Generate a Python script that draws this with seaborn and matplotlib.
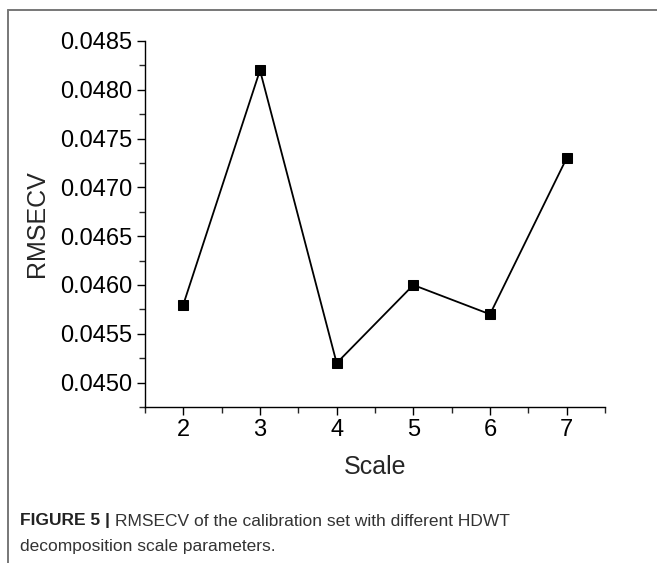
import matplotlib
matplotlib.use("Agg")
import matplotlib.pyplot as plt
import seaborn as sns
import pandas as pd
from matplotlib.lines import Line2D
from matplotlib.ticker import MultipleLocator

scale = [2, 3, 4, 5, 6, 7]
rmsecv = [0.0458, 0.0482, 0.0452, 0.0460, 0.0457, 0.0473]
yticks = [0.0450, 0.0455, 0.0460, 0.0465, 0.0470, 0.0475, 0.0480, 0.0485]
xticks = [2, 3, 4, 5, 6, 7]

df = pd.DataFrame({"Scale": scale, "RMSECV": rmsecv})

sns.set_theme(style="ticks")
plt.rcParams["font.family"] = ["Liberation Sans", "DejaVu Sans"]

W, H = 657, 563
fig = plt.figure(figsize=(W / 100, H / 100), dpi=100)
ax = fig.add_axes([145 / W, 1 - 407 / H, 460 / W, 366 / H])

sns.lineplot(data=df, x="Scale", y="RMSECV", ax=ax, color="black", linewidth=1.3,
             marker="s", markersize=7, markerfacecolor="black", markeredgecolor="black")

ax.set_xlim(1.5, 7.5)
ax.set_ylim(0.04475, 0.0485)
ax.set_xticks(xticks)
ax.set_xticklabels([str(v) for v in xticks])
ax.set_yticks(yticks)
ax.set_yticklabels([f"{v:.4f}" for v in yticks])
ax.xaxis.set_minor_locator(MultipleLocator(0.5))
ax.yaxis.set_minor_locator(MultipleLocator(0.00025))
ax.tick_params(axis="both", which="major", direction="out", length=6, width=1.0,
               labelsize=17, colors="black", pad=3)
ax.tick_params(axis="both", which="minor", direction="out", length=4, width=1.0)
for s in ["top", "right"]:
    ax.spines[s].set_visible(False)
for s in ["left", "bottom"]:
    ax.spines[s].set_color("black")
    ax.spines[s].set_linewidth(1.0)
ax.set_xlabel("Scale", fontsize=18, labelpad=10)
ax.set_ylabel("RMSECV", fontsize=18, labelpad=8)

# frame lines (top and left)
fig.add_artist(Line2D([7.5 / W, 1.0], [1 - 10 / H, 1 - 10 / H], transform=fig.transFigure,
                      color="#777777", linewidth=1.4))
fig.add_artist(Line2D([7.5 / W, 7.5 / W], [1 - 10 / H, 0.0], transform=fig.transFigure,
                      color="#777777", linewidth=1.4))

# caption
t1 = fig.text(20 / W, 1 - 521 / H, "FIGURE 5 |", fontsize=12.5, fontweight="bold",
              color="#222222", va="center", ha="left")
fig.canvas.draw()
bb = t1.get_window_extent()
fig.text(bb.x1 / W + 5 / W, 1 - 521 / H, "RMSECV of the calibration set with different HDWT",
         fontsize=12.5, color="#333333", va="center", ha="left")
fig.text(20 / W, 1 - 546 / H, "decomposition scale parameters.", fontsize=12.5,
         color="#333333", va="center", ha="left")

fig.savefig("out.png", dpi=100)
